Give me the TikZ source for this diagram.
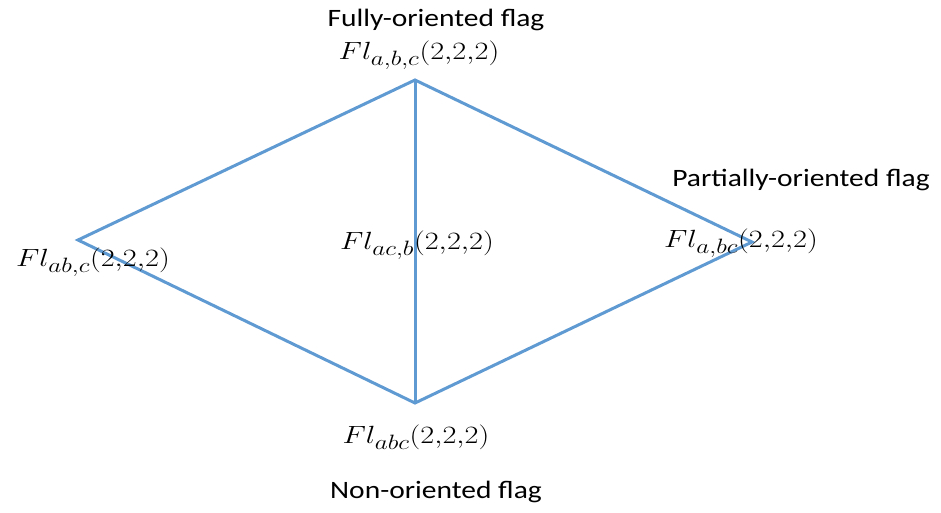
\documentclass[tikz,border=0pt]{standalone}
\usepackage{fontspec}
\setmainfont{Carlito}
\definecolor{edgeblue}{RGB}{95,155,210}
\newcommand{\wtext}[1]{\scalebox{1.18}[1]{#1}}
\newcommand{\wmath}[1]{\scalebox{1.22}[1]{$#1$}}
\begin{document}
\begin{tikzpicture}[x=1pt,y=-1pt,
  edge/.style={draw=edgeblue,line width=3pt},
  lbl/.style={inner sep=0pt,font=\fontsize{25}{29}\selectfont},
  mlbl/.style={inner sep=0pt,font=\fontsize{29}{33}\selectfont}]
\useasboundingbox[fill=white] (0,0) rectangle (941,512);
\coordinate (T) at (415,80);
\coordinate (L) at (78,240);
\coordinate (R) at (752,242);
\coordinate (B) at (415,403);
\draw[edge,line join=miter] (L) -- (T) -- (R) -- (B) -- cycle;
\draw[edge] (T) -- (B);
\node[lbl] (tf) at (436,20) {\wtext{Fully-oriented flag}};
\node[mlbl] (tm) at (419,55) {\wmath{Fl_{a,b,c}(2{,}2{,}2)}};
\node[mlbl] (lm) at (93,262) {\wmath{Fl_{ab,c}(2{,}2{,}2)}};
\node[mlbl] (cm) at (417,245) {\wmath{Fl_{ac,b}(2{,}2{,}2)}};
\node[lbl] (rf) at (801,180) {\wtext{Partially-oriented flag}};
\node[mlbl] (rm) at (741,243) {\wmath{Fl_{a,bc}(2{,}2{,}2)}};
\node[mlbl] (bm) at (416,437) {\wmath{Fl_{abc}(2{,}2{,}2)}};
\node[lbl] (bf) at (436,492) {\wtext{Non-oriented flag}};
\end{tikzpicture}
\end{document}
